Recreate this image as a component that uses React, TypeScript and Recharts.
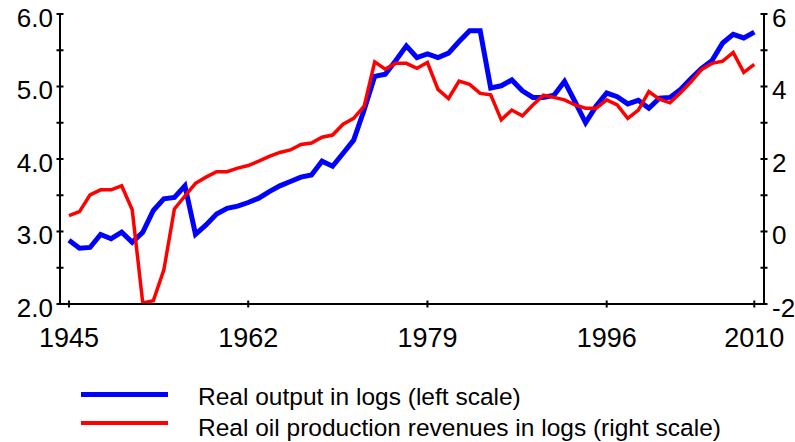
import React from 'react';
import { LineChart, Line, XAxis, YAxis, Legend } from 'recharts';

const YEARS = Array.from({ length: 66 }, (_, i) => 1945 + i);

// real output, logs (left axis)
const OUTPUT = [
  2.88, 2.77, 2.78, 2.96, 2.90, 2.99, 2.85, 2.99, 3.29, 3.45,
  3.47, 3.63, 2.96, 3.09, 3.24, 3.32, 3.35, 3.40, 3.46, 3.55,
  3.63, 3.69, 3.75, 3.78, 3.97, 3.90, 4.08, 4.26, 4.68, 5.14,
  5.17, 5.36, 5.56, 5.40, 5.45, 5.40, 5.46, 5.62, 5.77, 5.77,
  4.98, 5.01, 5.09, 4.94, 4.85, 4.85, 4.88, 5.07, 4.79, 4.50,
  4.73, 4.91, 4.86, 4.76, 4.81, 4.70, 4.84, 4.85, 4.96, 5.11,
  5.25, 5.36, 5.60, 5.72, 5.67, 5.75,
];

// real oil production revenues, logs (right axis)
const OIL = [
  0.44, 0.55, 1.01, 1.15, 1.15, 1.26, 0.60, -1.97, -1.91, -1.06,
  0.62, 0.98, 1.33, 1.50, 1.65, 1.65, 1.75, 1.82, 1.94, 2.07,
  2.18, 2.25, 2.40, 2.44, 2.60, 2.66, 2.96, 3.12, 3.46, 4.68,
  4.48, 4.64, 4.64, 4.50, 4.66, 3.92, 3.67, 4.15, 4.06, 3.81,
  3.77, 3.08, 3.35, 3.19, 3.49, 3.76, 3.70, 3.63, 3.49, 3.40,
  3.40, 3.63, 3.49, 3.12, 3.35, 3.86, 3.65, 3.55, 3.83, 4.13,
  4.47, 4.64, 4.70, 4.94, 4.39, 4.61,
];

const X_TICKS = [1945, 1962, 1979, 1996, 2010];
const LEFT_TICKS = [2, 2.5, 3, 3.5, 4, 4.5, 5, 5.5, 6];
const RIGHT_TICKS = [-2, -1, 0, 1, 2, 3, 4, 5, 6];

const LEGEND_ITEMS = [
  { label: 'Real output in logs (left scale)', color: '#0000ff' },
  { label: 'Real oil production revenues in logs (right scale)', color: '#ff0000' },
];

const data = YEARS.map((year, i) => ({ year, output: OUTPUT[i], oil: OIL[i] }));

const FONT = '"Liberation Sans", Arial, sans-serif';

const LeftTick = (props: any) => {
  const { x, y, payload } = props;
  const v = payload.value;
  return (
    <g>
      <line x1={x - 3.5} x2={x + 3.5} y1={y} y2={y} stroke="#000" strokeWidth={2} />
      {Number.isInteger(v) && (
        <text x={x - 7} y={y + 12.5} textAnchor="end" fontSize={26} fontFamily={FONT} fill="#000">
          {v.toFixed(1)}
        </text>
      )}
    </g>
  );
};

const RightTick = (props: any) => {
  const { x, y, payload } = props;
  const v = payload.value;
  return (
    <g>
      <line x1={x - 3.5} x2={x + 3.5} y1={y} y2={y} stroke="#000" strokeWidth={2} />
      {v % 2 === 0 && (
        <text x={x + 8} y={y + 12.5} textAnchor="start" fontSize={26} fontFamily={FONT} fill="#000">
          {v}
        </text>
      )}
    </g>
  );
};

const BottomTick = (props: any) => {
  const { x, y, payload } = props;
  return (
    <g>
      <line x1={x} x2={x} y1={y - 3.5} y2={y + 3.5} stroke="#000" strokeWidth={2} />
      <text x={x} y={y + 42.5} textAnchor="middle" fontSize={27} fontFamily={FONT} fill="#000">
        {payload.value}
      </text>
    </g>
  );
};

const renderLegend = () => (
  <svg width={795} height={72}>
    {LEGEND_ITEMS.map((item, i) => (
      <g key={item.label}>
        <line
          x1={81}
          x2={168}
          y1={i === 0 ? 24.5 : 53}
          y2={i === 0 ? 24.5 : 53}
          stroke={item.color}
          strokeWidth={i === 0 ? 5 : 4}
        />
        <text x={198} y={i === 0 ? 35 : 66} fontSize={24.5} fontFamily={FONT} fill="#000">
          {item.label}
        </text>
      </g>
    ))}
  </svg>
);

export default function App() {
  return (
    <div style={{ position: 'absolute', left: 0, top: 0, width: 795, height: 442, background: '#fff' }}>
      <LineChart width={795} height={442} data={data} margin={{ top: 14, right: 0, bottom: 88, left: 0 }}>
        <XAxis
          dataKey="year"
          type="number"
          domain={[1944.15, 2010.92]}
          allowDataOverflow
          ticks={X_TICKS}
          interval={0}
          height={50}
          tickSize={0}
          tickMargin={0}
          tickLine={false}
          axisLine={{ stroke: '#000', strokeWidth: 2 }}
          tick={BottomTick}
        />
        <YAxis
          yAxisId="left"
          orientation="left"
          width={60}
          domain={[2, 6]}
          ticks={LEFT_TICKS}
          interval={0}
          tickSize={0}
          tickMargin={0}
          tickLine={false}
          axisLine={{ stroke: '#000', strokeWidth: 2 }}
          tick={LeftTick}
        />
        <YAxis
          yAxisId="right"
          orientation="right"
          width={31}
          domain={[-2, 6]}
          ticks={RIGHT_TICKS}
          interval={0}
          tickSize={0}
          tickMargin={0}
          tickLine={false}
          axisLine={{ stroke: '#000', strokeWidth: 2 }}
          tick={RightTick}
        />
        <Legend
          layout="horizontal"
          verticalAlign="middle"
          align="center"
          wrapperStyle={{ top: 370, left: 0, width: 795 }}
          content={renderLegend}
        />
        <Line
          yAxisId="left"
          dataKey="output"
          stroke="#0000ff"
          strokeWidth={5}
          dot={false}
          type="linear"
          isAnimationActive={false}
        />
        <Line
          yAxisId="right"
          dataKey="oil"
          stroke="#ff0000"
          strokeWidth={3.5}
          dot={false}
          type="linear"
          isAnimationActive={false}
        />
      </LineChart>
    </div>
  );
}
